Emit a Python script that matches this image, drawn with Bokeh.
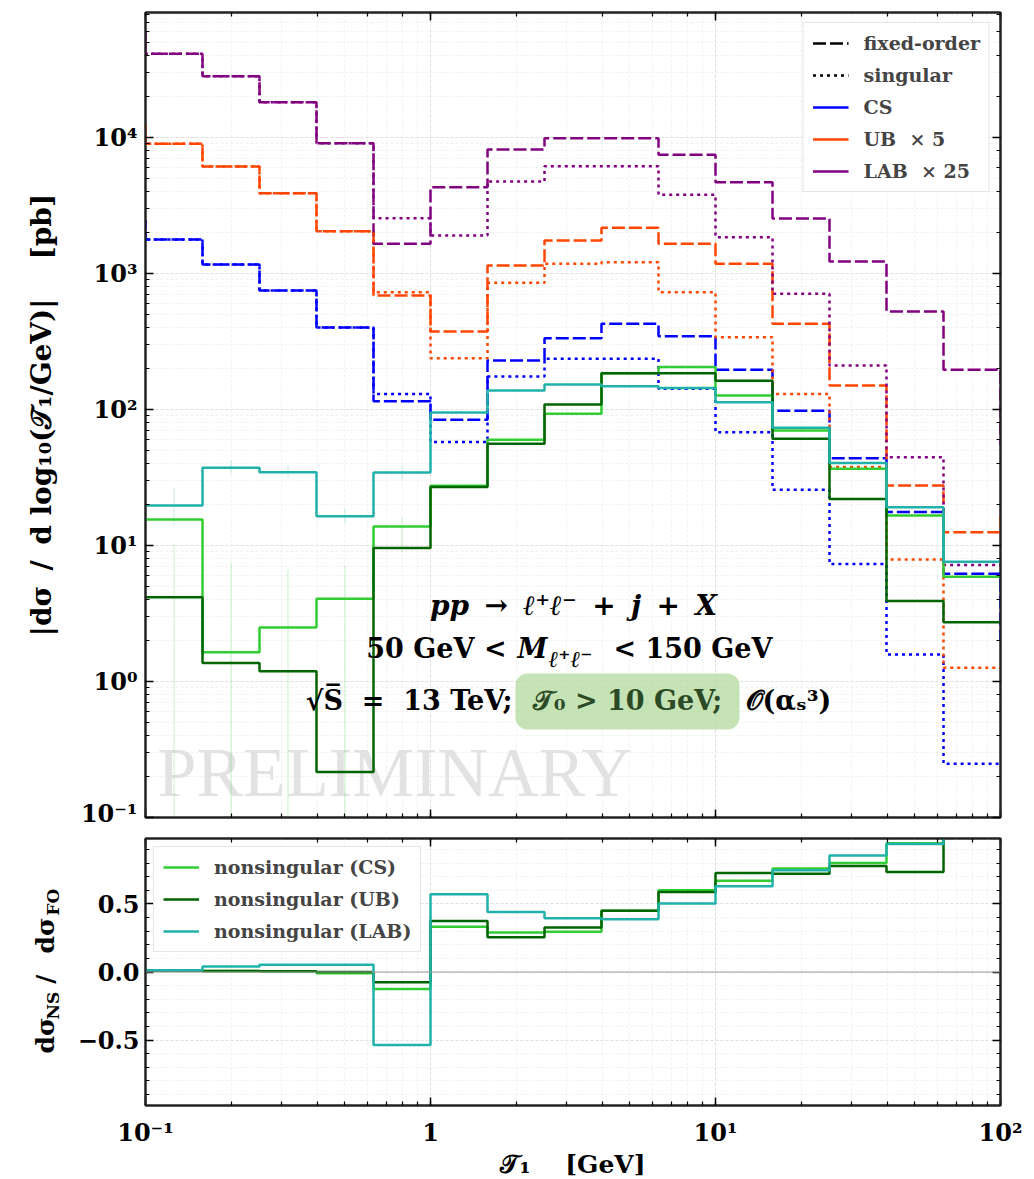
import numpy as np
from bokeh.plotting import figure
from bokeh.layouts import column, row
from bokeh.models import (Label, Legend, LegendItem, LogAxis, LinearAxis, CustomJSTickFormatter,
                          SingleIntervalTicker, BoxAnnotation, Span, Plot, Range1d)
from bokeh.embed import file_html
from bokeh.resources import INLINE

# ---------------------------------------------------------------- data
# tau_1 bin edges [GeV]; the first and last bins lie just outside the shown range
edges = [0.0631, 0.1, 0.1585, 0.2512, 0.3981, 0.631, 1.0, 1.585, 2.512, 3.981,
         6.31, 10.0, 15.85, 25.12, 39.81, 63.1, 100.0, 158.5]
ns_edges = edges[1:-1]

# fixed-order and singular cross sections [pb] (UB scaled by 5, LAB by 25)
cs_fo = [2450, 1778, 1164, 750, 401, 115, 84, 229, 334, 427, 346, 196, 98, 43.8, 17.6, 6.2, 2.0]
cs_sing = [2450, 1778, 1164, 750, 401, 130, 57.6, 175, 236, 236, 142, 68, 25.7, 7.3, 1.58, 0.248, 0.248]
ub_fo = [12250, 8990, 6120, 3890, 2046, 689, 375, 1145, 1750, 2170, 1652, 1178, 427, 150, 27.6, 12.5, 18.0]
ub_sing = [12250, 8990, 6120, 3890, 2046, 728, 238, 855, 1178, 1208, 727, 340, 130, 37.7, 7.9, 1.26, 1.26]
lab_fo = [59400, 41200, 28200, 18200, 9080, 1652, 4310, 8170, 9890, 9890, 7460, 4680, 2540, 1225, 526, 196, 55]
lab_sing = [59400, 41200, 28200, 18200, 9080, 2550, 1900, 4745, 6150, 6150, 3790, 1850, 709, 211, 44.6, 7.2, 7.2]

# |nonsingular| cross sections [pb], unscaled
ns_cs = [15.5, 1.64, 2.5, 4.06, 13.8, 27.5, 60, 93, 185, 205, 127, 70, 36.6, 16.6, 5.9]
ns_ub = [4.17, 1.37, 1.19, 0.216, 9.6, 26.9, 56, 109, 185, 185, 163, 61, 22, 3.9, 2.73]
ns_lab = [19.7, 37.3, 34.6, 16.4, 34.4, 95, 138, 153, 148, 144, 113, 73.3, 40.5, 19.1, 7.6]

# statistical uncertainty of the lowest bins (drawn faintly)
err_x = [0.1259, 0.1995, 0.3162, 0.5012, 0.7943]
err_cs_lo = [0.05, 0.05, 0.05, 0.05, 8.9]
err_cs_hi = [10.2, 7.5, 6.7, 7.1, 16.2]
err_lab_lo = [14.0, 33.8, 31.6, 14.5, 30.0]
err_lab_hi = [26.2, 42.2, 38.7, 18.7, 38.0]

# ratio nonsingular / fixed order
ratio_cs = [0.012, 0.008, 0.006, -0.01, -0.124, 0.333, 0.29, 0.296, 0.45, 0.60, 0.669, 0.759, 0.80, 0.945, 1.05]
ratio_ub = [0.01, 0.007, 0.006, 0.0, -0.076, 0.374, 0.255, 0.326, 0.45, 0.588, 0.727, 0.722, 0.778, 0.734, 1.10]
ratio_lab = [0.012, 0.04, 0.053, 0.053, -0.536, 0.571, 0.44, 0.394, 0.387, 0.503, 0.63, 0.747, 0.856, 0.94, 1.02]

# ---------------------------------------------------------------- style
FONT = "DejaVu Serif"
C_CS, C_UB, C_LAB = "#0000ff", "#ff4500", "#800080"
C_NCS, C_NUB, C_NLAB = "#32cd32", "#006400", "#20b2aa"
DASH, DOT = "13 4", "3 4"
LW = 2.5
NB = "\u00a0"

X0, X1 = 0.1, 100.0
Y0, Y1 = 0.1, 8.3e4
FL, FT, FW, FH = 145, 12, 855, 805          # upper frame in page pixels
TOP_H = 827                                 # height of the upper figure
BT, BH = 838, 267                           # lower frame top / height in page pixels
R0, R1 = -0.98, 0.98
LAB_W = 65                                  # strip holding the rotated ratio label


def top_xy(px, py):
    fx = (px - FL) / FW
    fy = (FT + FH - py) / FH
    return (10 ** (np.log10(X0) + fx * np.log10(X1 / X0)),
            10 ** (np.log10(Y0) + fy * np.log10(Y1 / Y0)))


def log_labels(one_plain):
    code = """
    const sup = {"-": "\u207b", "0": "\u2070", "1": "\u00b9", "2": "\u00b2", "3": "\u00b3",
                 "4": "\u2074", "5": "\u2075", "6": "\u2076", "7": "\u2077", "8": "\u2078", "9": "\u2079"};
    const e = Math.round(Math.log10(tick));
    if (e === 0 && %s) { return "1"; }
    return "10" + String(e).split("").map(c => sup[c]).join("");
    """ % ("true" if one_plain else "false")
    return CustomJSTickFormatter(code=code)


def blank():
    return CustomJSTickFormatter(code="return '';")


def style_axis(ax, size="24px"):
    ax.major_tick_in = 8
    ax.major_tick_out = 0
    ax.minor_tick_in = 4
    ax.minor_tick_out = 0
    ax.major_tick_line_width = 1.5
    ax.minor_tick_line_width = 1.2
    ax.major_tick_line_color = "black"
    ax.minor_tick_line_color = "black"
    ax.axis_line_width = 2
    ax.axis_line_color = "#222222"
    ax.major_label_text_font = FONT
    ax.major_label_text_font_style = "bold"
    ax.major_label_text_font_size = size
    ax.major_label_text_color = "black"
    ax.axis_label_text_font = FONT
    ax.axis_label_text_font_style = "bold"
    ax.axis_label_text_color = "black"
    ax.formatter = blank()
    ax.major_label_standoff = 0


def style_grid(p):
    for g in (p.xgrid, p.ygrid):
        g.grid_line_color = "#dcdcdc"
        g.grid_line_width = 0.8
        g.grid_line_dash = "3 2"
        g.minor_grid_line_color = "#ededed"
        g.minor_grid_line_width = 0.8
        g.minor_grid_line_dash = "3 2"


def style_legend(lg):
    lg.label_text_font = FONT
    lg.label_text_font_style = "bold"
    lg.label_text_font_size = "19px"
    lg.glyph_width = 36
    lg.glyph_height = 20
    lg.spacing = 10
    lg.padding = 9
    lg.margin = 10
    lg.label_standoff = 15
    lg.border_line_color = "#cccccc"
    lg.border_line_width = 1
    lg.background_fill_alpha = 0.85


def stairs(p, e, v, **kw):
    return p.step(x=list(e), y=list(v) + [v[-1]], mode="after", line_width=LW, **kw)


# ---------------------------------------------------------------- upper panel
p1 = figure(x_axis_type="log", y_axis_type="log", x_range=(X0, X1), y_range=(Y0, Y1),
            frame_width=FW, frame_height=FH, min_border_left=FL, min_border_right=34,
            min_border_top=FT, min_border_bottom=TOP_H - FT - FH, output_backend="svg",
            toolbar_location=None, background_fill_color="white", border_fill_color="white")
p1.outline_line_color = "#222222"
p1.outline_line_width = 2
style_grid(p1)
p1.add_layout(LogAxis(), "right")
p1.add_layout(LogAxis(), "above")
for ax in p1.left + p1.right + p1.above + p1.below:
    style_axis(ax)
yl = p1.left[0]
yl.formatter = log_labels(False)
yl.major_label_standoff = 8
yl.axis_label = (f"|d\u03c3{NB}\u2009/{NB}\u2009d{NB}log\u2081\u2080(\U0001D4AF\u2081/GeV)|"
                 f"{NB}{NB}{NB} [pb]")
yl.axis_label_text_font_size = "28px"
yl.axis_label_standoff = 20

p1.segment(x0=err_x, y0=err_cs_lo, x1=err_x, y1=err_cs_hi, line_color=C_NCS, line_alpha=0.13, line_width=2)
p1.segment(x0=err_x, y0=err_lab_lo, x1=err_x, y1=err_lab_hi, line_color=C_NLAB, line_alpha=0.13, line_width=2)

for vals, col in ((cs_fo, C_CS), (ub_fo, C_UB), (lab_fo, C_LAB)):
    stairs(p1, edges, vals, line_color=col, line_dash=DASH)
for vals, col in ((cs_sing, C_CS), (ub_sing, C_UB), (lab_sing, C_LAB)):
    stairs(p1, edges, vals, line_color=col, line_dash=DOT)
stairs(p1, ns_edges, ns_cs, line_color=C_NCS)
stairs(p1, ns_edges, ns_ub, line_color=C_NUB)
stairs(p1, ns_edges, ns_lab, line_color=C_NLAB)

# legend keys, placed left of the visible x range
key_x, key_y = [1e-4, 2e-4], [1.0, 1.0]
lg_fo = p1.line(x=key_x, y=key_y, line_color="black", line_dash=DASH, line_width=LW)
lg_sing = p1.line(x=key_x, y=key_y, line_color="black", line_dash=DOT, line_width=LW)
lg_cs = p1.line(x=key_x, y=key_y, line_color=C_CS, line_width=LW)
lg_ub = p1.line(x=key_x, y=key_y, line_color=C_UB, line_width=LW)
lg_lab = p1.line(x=key_x, y=key_y, line_color=C_LAB, line_width=LW)
leg1 = Legend(items=[LegendItem(label="fixed-order", renderers=[lg_fo]),
                     LegendItem(label="singular", renderers=[lg_sing]),
                     LegendItem(label="CS", renderers=[lg_cs]),
                     LegendItem(label=f"UB{NB}{NB}\u00d7 5", renderers=[lg_ub]),
                     LegendItem(label=f"LAB{NB}{NB}\u00d7 25", renderers=[lg_lab])],
              location="top_right")
style_legend(leg1)
p1.add_layout(leg1)

# watermark
wx, wy = top_xy(157, 772)
p1.add_layout(Label(x=wx, y=wy, text="PRELIMINARY", text_font="Liberation Serif",
                    text_font_size="70px", text_color="#e2e2e2", text_align="left",
                    text_baseline="middle", level="underlay"))


def note(px, py, text, size="27px", style="bold", align="left", color="black"):
    x, y = top_xy(px, py)
    p1.add_layout(Label(x=x, y=y, text=text, text_font=FONT, text_font_size=size,
                        text_font_style=style, text_align=align, text_baseline="middle",
                        text_color=color))


gap = "\u2009 "
note(573, 605, f"pp{gap}\u2192{gap}\u2113\u207a\u2113\u207b{gap}+{gap}j{gap}+{gap}X",
     size="28px", style="bold italic", align="center")
note(506, 648, "50 GeV <", align="right")
note(517, 648, "M", style="bold italic")
note(548, 658, "\u2113\u207a\u2113\u207b", size="23px", style="bold italic")
note(613, 648, "< 150 GeV")

bl, btop = top_xy(515, 673)
br, bbot = top_xy(739, 729)
p1.add_layout(BoxAnnotation(left=bl, right=br, top=btop, bottom=bbot, fill_color="#b3d99c",
                            fill_alpha=0.75, line_color=None, border_radius=12))
note(512, 700, f"\u221aS\u0305{NB} ={NB} 13 TeV;", align="right")
note(627, 700, "\U0001D4AF\u2080 > 10 GeV;", align="center", color="#2c4a26")
note(745, 700, "\U0001D4AA(\u03b1\u209b\u00b3)")

# ---------------------------------------------------------------- lower panel
p2 = figure(x_axis_type="log", x_range=p1.x_range, y_range=(R0, R1),
            frame_width=FW, frame_height=BH, min_border_left=FL - LAB_W, min_border_right=34,
            min_border_top=BT - TOP_H, min_border_bottom=50, output_backend="svg",
            toolbar_location=None, background_fill_color="white", border_fill_color="white")
p2.outline_line_color = "#222222"
p2.outline_line_width = 2
style_grid(p2)
p2.yaxis.ticker = SingleIntervalTicker(interval=0.5, num_minor_ticks=5)
p2.add_layout(LogAxis(), "above")
p2.add_layout(LinearAxis(ticker=SingleIntervalTicker(interval=0.5, num_minor_ticks=5)), "right")
for ax in p2.left + p2.right + p2.above + p2.below:
    style_axis(ax)
xb = p2.below[0]
xb.formatter = log_labels(True)
xb.major_label_standoff = 12
xb.axis_label = f"\U0001D4AF\u2081{NB}{NB}{NB} [GeV]"
xb.axis_label_text_font_size = "25px"
xb.axis_label_standoff = 0
yb = p2.left[0]
yb.formatter = CustomJSTickFormatter(
    code="return (tick < 0 ? '\u2212' : '') + Math.abs(tick).toFixed(1);")
yb.major_label_standoff = 6

p2.add_layout(Span(location=0, dimension="width", line_color="#9a9a9a", line_width=1))

r_cs = stairs(p2, ns_edges, ratio_cs, line_color=C_NCS)
r_ub = stairs(p2, ns_edges, ratio_ub, line_color=C_NUB)
r_lab = stairs(p2, ns_edges, ratio_lab, line_color=C_NLAB)
leg2 = Legend(items=[LegendItem(label="nonsingular (CS)", renderers=[r_cs]),
                     LegendItem(label="nonsingular (UB)", renderers=[r_ub]),
                     LegendItem(label="nonsingular (LAB)", renderers=[r_lab])],
              location="top_left")
style_legend(leg2)
leg2.margin = 8
p2.add_layout(leg2)

# ---------------------------------------------------------------- rotated ratio label
# the strip has the same frame height as the lower panel and its borders are
# synchronised with it by the row, so its vertical range is given in page pixels
lab = Plot(frame_width=LAB_W, frame_height=BH, x_range=Range1d(0, LAB_W),
           y_range=Range1d(BT + BH, BT), min_border_left=0, min_border_right=0,
           min_border_top=BT - TOP_H, min_border_bottom=0, title=None,
           toolbar_location=None, outline_line_color=None, output_backend="svg",
           background_fill_color="white", border_fill_color="white")


def vnote(px, py, text, size="25px"):
    lab.add_layout(Label(x=px, y=py, text=text, angle=np.pi / 2, text_font=FONT,
                         text_font_size=size, text_font_style="bold", text_align="left",
                         text_baseline="alphabetic", text_color="black"))


vnote(45, 1053, "d\u03c3")
vnote(52, 1019, "NS", size="17px")
vnote(45, 992, f"{NB}/{NB}")
vnote(45, 953, "d\u03c3")
vnote(52, 915, "FO", size="17px")

layout = column(p1, row(lab, p2))
with open("out.html", "w", encoding="utf-8") as fh:
    fh.write(file_html(layout, INLINE))
